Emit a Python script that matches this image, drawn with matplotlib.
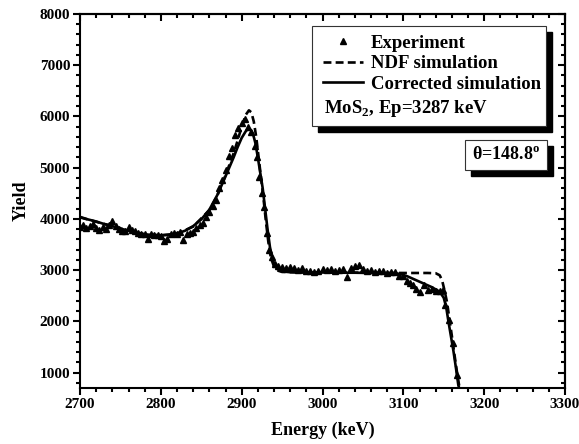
import matplotlib
matplotlib.use("Agg")
import matplotlib.pyplot as plt
from matplotlib.patches import Rectangle
from matplotlib.ticker import MultipleLocator
from matplotlib.lines import Line2D

plt.rcParams['font.family'] = ['Liberation Serif', 'DejaVu Serif']
plt.rcParams['font.weight'] = 'bold'
plt.rcParams['mathtext.fontset'] = 'custom'
plt.rcParams['mathtext.rm'] = 'Liberation Serif:bold'
plt.rcParams['mathtext.bf'] = 'Liberation Serif:bold'

# Experiment (triangles)
exp_energy = [2700, 2704, 2708, 2712, 2716, 2720, 2724, 2728, 2732, 2736, 2740, 2744,
              2748, 2752, 2756, 2760, 2764, 2768, 2772, 2776, 2780, 2784, 2788, 2792,
              2796, 2800, 2804, 2808, 2812, 2816, 2820, 2824, 2828, 2832, 2836, 2840,
              2844, 2848, 2852, 2856, 2860, 2864, 2868, 2872, 2876, 2880, 2884, 2888,
              2892, 2896, 2900, 2904, 2908, 2912, 2916, 2919, 2922, 2925, 2928, 2931,
              2934, 2937, 2941, 2945, 2950, 2955, 2960, 2965, 2970, 2975, 2980, 2985,
              2990, 2995, 3000, 3005, 3010, 3015, 3020, 3025, 3030, 3035, 3040, 3045,
              3050, 3055, 3060, 3065, 3070, 3075, 3080, 3085, 3090, 3095, 3100, 3104,
              3108, 3112, 3116, 3120, 3125, 3130, 3135, 3140, 3145, 3149, 3152, 3156,
              3161, 3166]
exp_yield = [3850, 3890, 3830, 3870, 3900, 3830, 3780, 3840, 3800, 3880, 3950, 3870,
             3800, 3770, 3760, 3850, 3790, 3760, 3720, 3710, 3700, 3610, 3700, 3680,
             3690, 3660, 3560, 3600, 3700, 3720, 3700, 3740, 3590, 3700, 3720, 3750,
             3820, 3880, 3920, 4030, 4140, 4250, 4370, 4600, 4760, 4950, 5220, 5380,
             5630, 5780, 5880, 5950, 5800, 5700, 5420, 5200, 4820, 4500, 4230, 3720,
             3390, 3250, 3130, 3080, 3060, 3040, 3070, 3050, 3000, 3040, 2990, 2990,
             2960, 2980, 3030, 3000, 3020, 2990, 3000, 3020, 2870, 3040, 3080, 3100,
             3030, 2990, 3000, 2960, 2990, 2980, 2950, 2960, 2970, 2880, 2880, 2780,
             2740, 2710, 2640, 2580, 2710, 2620, 2640, 2600, 2590, 2610, 2320, 2030,
             1580, 950]

# NDF simulation (dashed)
ndf_energy = [2700, 2720, 2740, 2760, 2780, 2800, 2820, 2840, 2860, 2870, 2880, 2890,
              2895, 2900, 2905, 2909, 2912, 2915, 2918, 2921, 2924, 2927, 2930, 2933,
              2936, 2940, 2945, 2950, 2980, 3000, 3050, 3100, 3130, 3140, 3145, 3148,
              3151, 3154, 3157, 3160, 3163, 3166, 3169, 3170]
ndf_yield = [4030, 3945, 3860, 3770, 3700, 3680, 3710, 3850, 4170, 4460, 4850, 5280,
             5530, 5800, 6030, 6120, 6080, 5900, 5600, 5200, 4800, 4400, 3950, 3550,
             3250, 3070, 2990, 2965, 2955, 2955, 2950, 2945, 2945, 2940, 2900, 2800,
             2600, 2380, 2050, 1720, 1380, 1050, 750, 700]

# Corrected simulation (solid)
cor_energy = [2700, 2710, 2720, 2730, 2740, 2750, 2760, 2770, 2780, 2790, 2800, 2810,
              2820, 2830, 2840, 2850, 2860, 2870, 2880, 2890, 2895, 2900, 2905, 2908,
              2911, 2914, 2917, 2920, 2923, 2926, 2929, 2932, 2935, 2938, 2941, 2945,
              2950, 2960, 2980, 3000, 3020, 3040, 3060, 3080, 3095, 3105, 3115, 3125,
              3135, 3145, 3150, 3153, 3156, 3159, 3162, 3165, 3168, 3169]
cor_yield = [4040, 3990, 3950, 3900, 3860, 3810, 3770, 3730, 3700, 3685, 3680, 3690,
             3715, 3770, 3860, 3990, 4180, 4470, 4830, 5200, 5400, 5580, 5710, 5760,
             5740, 5660, 5480, 5200, 4900, 4600, 4200, 3800, 3450, 3230, 3090, 3010,
             2975, 2960, 2955, 2955, 2950, 2950, 2945, 2940, 2930, 2880, 2810, 2740,
             2670, 2580, 2460, 2280, 1980, 1700, 1420, 1100, 760, 700]

fig = plt.figure(figsize=(5.79, 4.44), dpi=100)
ax = fig.add_axes([80 / 579, 1 - 388 / 444, 485 / 579, 374 / 444])

ax.plot(exp_energy, exp_yield, linestyle='none', marker='^', ms=5, color='black')
ax.plot(ndf_energy, ndf_yield, color='black', lw=1.9, dashes=(3.0, 1.6))
ax.plot(cor_energy, cor_yield, color='black', lw=1.9)

ax.set_xlim(2700, 3300)
ax.set_ylim(700, 8000)
ax.xaxis.set_major_locator(MultipleLocator(100))
ax.xaxis.set_minor_locator(MultipleLocator(20))
ax.yaxis.set_major_locator(MultipleLocator(1000))
ax.yaxis.set_minor_locator(MultipleLocator(200))
ax.tick_params(which='both', direction='out', width=1.5, labelsize=11, pad=2)
ax.tick_params(which='major', length=5)
ax.tick_params(which='minor', length=3)
for s in ax.spines.values():
    s.set_linewidth(1.5)

# inward ticks on top and right
top = ax.secondary_xaxis('top')
right = ax.secondary_yaxis('right')
top.xaxis.set_major_locator(MultipleLocator(100))
top.xaxis.set_minor_locator(MultipleLocator(20))
right.yaxis.set_major_locator(MultipleLocator(1000))
right.yaxis.set_minor_locator(MultipleLocator(200))
for sec in (top, right):
    sec.tick_params(which='both', direction='in', width=1.5, labelsize=0)
    sec.tick_params(which='major', length=5)
    sec.tick_params(which='minor', length=3)
    for s in sec.spines.values():
        s.set_linewidth(1.5)
top.set_xticklabels([])
right.set_yticklabels([])

ax.set_xlabel('Energy (keV)', fontsize=13, fontweight='bold', labelpad=8)
ax.set_ylabel('Yield', fontsize=13, fontweight='bold', labelpad=7)

# legend box with shadow
sx, sy = 6 / 485, 6 / 374
ax.add_patch(Rectangle((0.478 + sx, 0.700 - sy), 0.483, 0.268, transform=ax.transAxes,
                       facecolor='black', edgecolor='black', zorder=5, clip_on=False))
ax.add_patch(Rectangle((0.478, 0.700), 0.483, 0.268, transform=ax.transAxes,
                       facecolor='white', edgecolor='#333333', lw=0.8, zorder=6, clip_on=False))

handles = [Line2D([], [], linestyle='none', marker='^', ms=5, color='black'),
           Line2D([], [], color='black', lw=1.9, dashes=(3.0, 1.6)),
           Line2D([], [], color='black', lw=1.9)]
labels = ['Experiment', 'NDF simulation', 'Corrected simulation']
leg = ax.legend(handles, labels, loc='upper left', bbox_to_anchor=(0.501, 0.945),
                frameon=False, borderpad=0, borderaxespad=0, handlelength=2.15,
                handletextpad=0.4, labelspacing=0.18,
                prop={'family': 'Liberation Serif', 'weight': 'bold', 'size': 13.5})
leg.set_zorder(7)
ax.text(0.504, 0.746, r'MoS$_2$, Ep=3287 keV', transform=ax.transAxes, fontsize=13.5,
        fontweight='bold', va='center', ha='left', zorder=8)

# theta box with shadow
ax.add_patch(Rectangle((0.794 + sx, 0.583 - sy), 0.169, 0.080, transform=ax.transAxes,
                       facecolor='black', edgecolor='black', zorder=5, clip_on=False))
ax.add_patch(Rectangle((0.794, 0.583), 0.169, 0.080, transform=ax.transAxes,
                       facecolor='white', edgecolor='#333333', lw=0.8, zorder=6, clip_on=False))
ax.text(0.8785, 0.621, r'$\mathbf{\theta}$=148.8$^\mathrm{o}$', transform=ax.transAxes,
        fontsize=13, fontweight='bold', va='center', ha='center', zorder=8)

fig.savefig('out.png', dpi=100)
